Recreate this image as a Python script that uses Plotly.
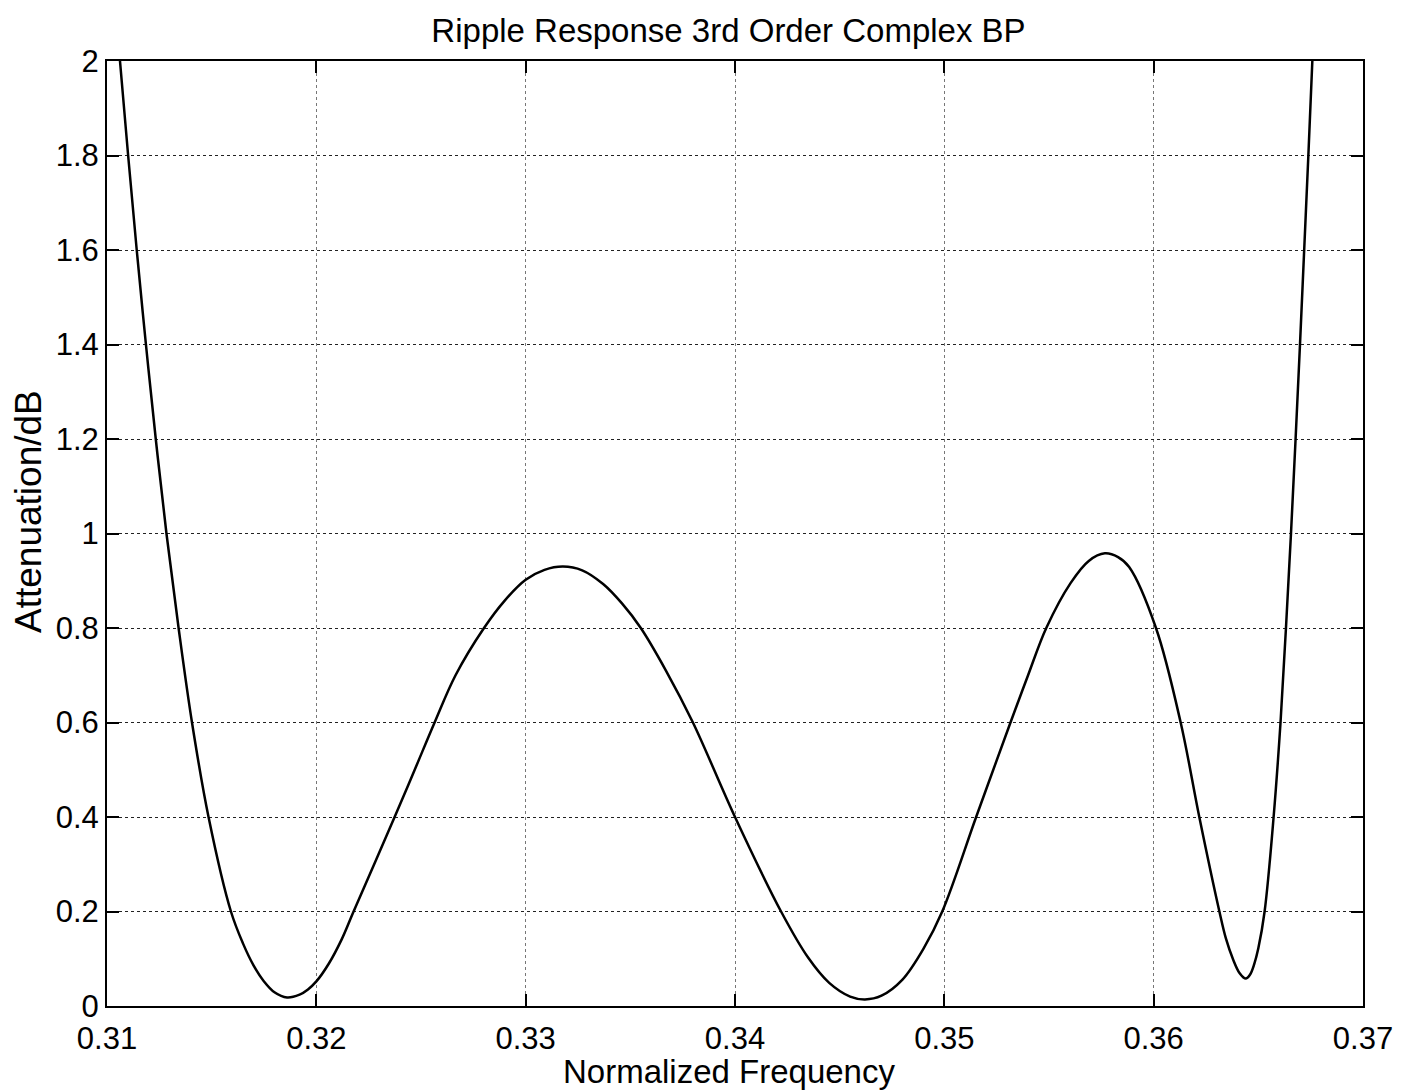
import plotly.graph_objects as go

# Curve samples (normalized frequency, attenuation in dB)
freq = [0.31062, 0.31101, 0.31142, 0.31186, 0.31233, 0.31284, 0.31342, 0.31406,
        0.31485, 0.31592, 0.31650, 0.31700, 0.31750, 0.31800, 0.31860, 0.31920,
        0.31960, 0.32000, 0.32060, 0.32120, 0.32178, 0.32374, 0.32470,
        0.32565, 0.32665, 0.32801, 0.32900, 0.33000, 0.33090, 0.33178, 0.33270,
        0.33370, 0.33460, 0.33550, 0.33670, 0.33799, 0.34000, 0.34220, 0.34350,
        0.34450, 0.34550, 0.34621, 0.34700, 0.34800, 0.34900, 0.34990, 0.35152,
        0.35316, 0.35400, 0.35487, 0.35603, 0.35690, 0.35767, 0.35830, 0.35883,
        0.36011, 0.36129, 0.36218, 0.36314, 0.36345, 0.36380, 0.36410, 0.36440,
        0.36460, 0.36480, 0.36500, 0.36530, 0.36573, 0.36606, 0.36632, 0.36656,
        0.36678, 0.36699, 0.36719, 0.36739, 0.36758]
atten = [2.00, 1.80, 1.60, 1.40, 1.20, 1.00, 0.80, 0.60,
         0.40, 0.20, 0.132, 0.086, 0.052, 0.029, 0.018, 0.024,
         0.035, 0.052, 0.090, 0.140, 0.20, 0.40, 0.50,
         0.60, 0.70, 0.80, 0.858, 0.902, 0.923, 0.930, 0.922,
         0.893, 0.852, 0.80, 0.71, 0.60, 0.40, 0.20, 0.102,
         0.049, 0.020, 0.014, 0.022, 0.056, 0.121, 0.20, 0.40,
         0.60, 0.70, 0.80, 0.895, 0.942, 0.958, 0.950, 0.929,
         0.80, 0.60, 0.40, 0.20, 0.143, 0.098, 0.070, 0.058,
         0.066, 0.088, 0.122, 0.20, 0.40, 0.60, 0.80, 1.00,
         1.20, 1.40, 1.60, 1.80, 2.00]

x_ticks = [0.31, 0.32, 0.33, 0.34, 0.35, 0.36, 0.37]
x_tick_labels = ["0.31", "0.32", "0.33", "0.34", "0.35", "0.36", "0.37"]
y_ticks = [0, 0.2, 0.4, 0.6, 0.8, 1.0, 1.2, 1.4, 1.6, 1.8, 2.0]
y_tick_labels = ["0", "0.2", "0.4", "0.6", "0.8", "1", "1.2", "1.4", "1.6", "1.8", "2"]

title_text = "Ripple Response 3rd Order Complex BP"
x_title = "Normalized Frequency"
y_title = "Attenuation/dB"

FONT = "Liberation Sans, Arial, sans-serif"

fig = go.Figure()
fig.add_trace(go.Scatter(
    x=freq, y=atten, mode="lines",
    line=dict(color="black", width=2.5, shape="spline", smoothing=1.0),
    showlegend=False, hoverinfo="skip",
))

axis_common = dict(
    showline=True, linecolor="black", linewidth=2, mirror="ticks",
    ticks="inside", ticklen=12, tickwidth=2, tickcolor="black",
    showgrid=True, gridwidth=1, griddash="dot",
    zeroline=False,
    tickfont=dict(family=FONT, size=31, color="black"),
)

fig.update_xaxes(
    range=[0.31, 0.37], tickvals=x_ticks, ticktext=x_tick_labels,
    gridcolor="#777777", ticklabelstandoff=4,
    **axis_common,
)
fig.update_yaxes(
    range=[0, 2], tickvals=y_ticks, ticktext=y_tick_labels,
    gridcolor="#222222",
    **axis_common,
)

fig.update_layout(
    width=1409, height=1090,
    margin=dict(l=107, r=46, t=61, b=84, autoexpand=False),
    paper_bgcolor="white", plot_bgcolor="white",
    title=dict(text=title_text, x=728.5 / 1409, xanchor="center", y=1 - 30 / 1090, yanchor="middle",
               yref="container", xref="container", font=dict(family=FONT, size=33, color="black")),
    annotations=[
        dict(text=x_title, xref="paper", yref="paper",
             x=(728.5 - 107) / 1256, y=-(1071 - 1006) / 945, xanchor="center", yanchor="middle",
             showarrow=False, font=dict(family=FONT, size=33, color="black")),
        dict(text=y_title, xref="paper", yref="paper", textangle=-90,
             x=-(107 - 28) / 1256, y=(1006 - 512) / 945, xanchor="center", yanchor="middle",
             showarrow=False, font=dict(family=FONT, size=37, color="black")),
    ],
)

fig.write_html("out.html")
